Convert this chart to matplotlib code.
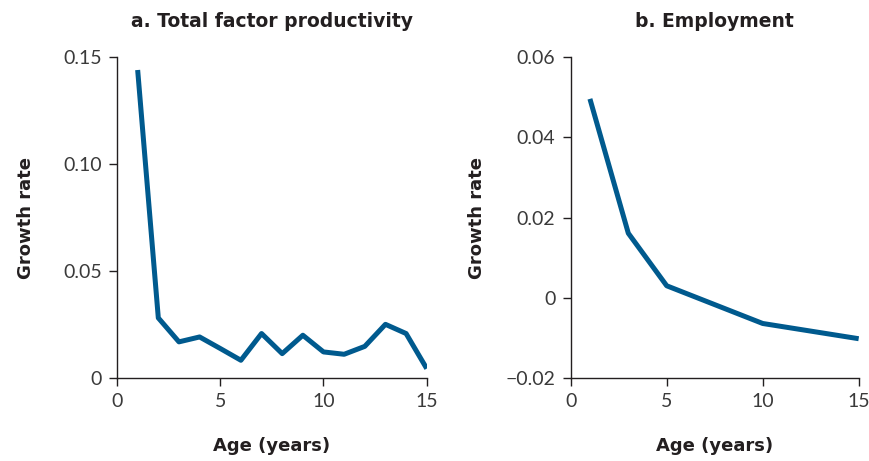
import matplotlib.pyplot as plt

# TFP growth by firm age
tfp_age = [1, 2, 3, 4, 5, 6, 7, 8, 9, 10, 11, 12, 13, 14, 15]
tfp_growth = [0.144, 0.0281, 0.0169, 0.0192, 0.0138, 0.0083, 0.0208, 0.0114,
              0.0200, 0.0122, 0.0111, 0.0148, 0.0251, 0.0208, 0.0044]

# employment growth by firm age
emp_age = [1, 3, 5, 10, 15]
emp_growth = [0.0496, 0.0161, 0.0030, -0.0064, -0.0102]

plt.rcParams['font.family'] = ['Lato', 'DejaVu Sans']
blue = '#005a8e'
dark = '#231f20'
bold = dict(family='DejaVu Sans', fontweight='bold', color=dark)

fig = plt.figure(figsize=(8.7, 4.61), dpi=100)
ax1 = fig.add_axes([0.1345, 0.180, 0.356, 0.696])
ax2 = fig.add_axes([0.656, 0.180, 0.331, 0.696])

ax1.plot(tfp_age, tfp_growth, color=blue, lw=3.6, solid_capstyle='butt')
ax1.set_ylim(0, 0.15)
ax1.set_yticks([0, 0.05, 0.10, 0.15])
ax1.set_yticklabels(['0', '0.05', '0.10', '0.15'])
ax1.set_title('a. Total factor productivity', fontsize=13.5, pad=22, **bold)

ax2.plot(emp_age, emp_growth, color=blue, lw=3.6, solid_capstyle='butt')
ax2.set_ylim(-0.02, 0.06)
ax2.set_yticks([-0.02, 0, 0.02, 0.04, 0.06])
ax2.set_yticklabels(['\u22120.02', '0', '0.02', '0.04', '0.06'])
ax2.set_title('b. Employment', fontsize=13.5, pad=22, **bold)

for ax, ypad in ((ax1, 20), (ax2, 14)):
    ax.set_xlim(0, 15)
    ax.set_xticks([0, 5, 10, 15])
    for s in ('top', 'right'):
        ax.spines[s].set_visible(False)
    for s in ('left', 'bottom'):
        ax.spines[s].set_color(dark)
        ax.spines[s].set_linewidth(1.0)
    ax.tick_params(direction='out', length=6, width=1.0, colors=dark,
                   labelsize=14, pad=5)
    for lab in ax.get_xticklabels() + ax.get_yticklabels():
        lab.set_color('#3a3a3a')
    ax.set_xlabel('Age (years)', fontsize=13, labelpad=19, **bold)
    ax.set_ylabel('Growth rate', fontsize=13, labelpad=ypad, **bold)

fig.savefig('out.png', dpi=100)
